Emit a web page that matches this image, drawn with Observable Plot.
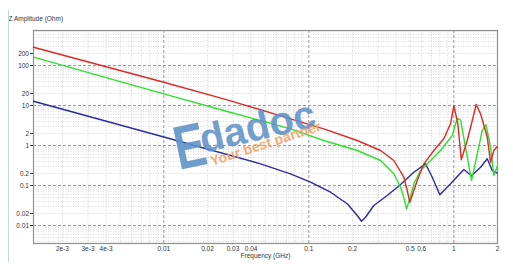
<!DOCTYPE html>
<html><head><meta charset="utf-8">
<script src="https://cdn.jsdelivr.net/npm/d3@7"></script>
<script src="https://cdn.jsdelivr.net/npm/@observablehq/plot@0.6"></script>
<style>
body{margin:0;background:#fff}
#wrap{position:relative;width:513px;height:269px;overflow:hidden;background:#fff}
#edge{position:absolute;left:8px;top:10px;width:1px;height:252px;background:#c9d7e6}
#wm{position:absolute;left:0;top:0;pointer-events:none}
</style>
</head><body><div id="wrap"><div id="edge"></div></div>
<script>
// Frequency (GHz) and impedance (Ohm)
const redF = [0.001263,0.01,0.02737,0.07477,0.1269,0.2157,0.3123,0.3857,0.452,0.4771,0.4973,0.5593,0.6211,0.7279,0.8531,0.9489,1.0,1.066,1.125,1.237,1.34,1.427,1.528,1.70,1.791,1.887,1.992];
const redZ = [286.7,38.2,13.88,4.65,2.615,1.334,0.75,0.4217,0.1612,0.075,0.0382,0.1334,0.3487,0.75,1.47,3.486,10.0,3.486,0.439,1.334,4.217,10.59,6.2,1.613,0.382,0.75,0.944];

const greenF = [0.001263,0.01,0.02737,0.07477,0.1269,0.2157,0.3123,0.3857,0.4289,0.452,0.4718,0.5028,0.5298,0.5893,0.6908,0.8095,0.975,1.055,1.112,1.204,1.325,1.45,1.57,1.663,1.791,1.887,1.992];
const greenZ = [161.3,19.61,7.08,2.615,1.334,0.75,0.4217,0.1961,0.0907,0.0501,0.0259,0.0531,0.1103,0.2371,0.4217,0.75,1.778,4.732,4.39,0.907,0.1334,0.62,2.371,3.35,0.907,0.1778,0.2985];

const blueF = [0.001263,0.01,0.04643,0.07477,0.1027,0.1411,0.184,0.2157,0.2309,0.246,0.2807,0.3472,0.4289,0.5298,0.6381,0.7096,0.8007,0.9489,1.172,1.325,1.528,1.70,1.84,1.992];
const blueZ = [12.81,1.631,0.3487,0.1961,0.1209,0.068,0.0349,0.0178,0.0128,0.0161,0.0316,0.0562,0.1059,0.2151,0.3487,0.1612,0.0586,0.1103,0.2512,0.1747,0.2869,0.465,0.2371,0.203];

const xTicks = [0.002,0.003,0.004,0.01,0.02,0.03,0.04,0.1,0.2,0.5,0.6,1,2];
const xTickLabels = ["2e-3","3e-3","4e-3","0.01","0.02","0.03","0.04","0.1","0.2","0.5","0.6","1","2"];
const yTicks = [0.01,0.02,0.1,0.2,1,2,10,20,100,200];
const yTickLabels = ["0.01","0.02","0.1","0.2","1","2","10","20","100","200"];
const majorX = [0.01,0.1,1];
const majorY = [0.01,0.1,1,10,100];
const minorMult = [2,3,4,5,6,7,8,9];
const xDecades = [0.001,0.01,0.1,1];
const yDecades = [0.001,0.01,0.1,1,10,100];
const minorX = xDecades.flatMap(d => minorMult.map(m => d*m)).filter(v => v > 0.00127 && v < 2);
const minorY = yDecades.flatMap(d => minorMult.map(m => d*m)).filter(v => v > 0.0036 && v < 740);

const yLab = new Map(yTicks.map((t,i)=>[t,yTickLabels[i]]));
const pts = (F,Z) => F.map((f,i)=>({f, z:Z[i]}));

const chart = Plot.plot({
  width: 513, height: 269,
  marginLeft: 33, marginTop: 30, marginRight: 16, marginBottom: 26,
  style: {fontFamily: "'Liberation Sans', Arial, sans-serif", fontSize: "6.5px", color: "#333", background: "#fff"},
  x: {type: "log", domain: [0.001263, 2.0], label: null, axis: null},
  y: {type: "log", domain: [0.00355, 750], label: null},
  marks: [
    Plot.ruleX(minorX, {stroke: "#d6d6d6", strokeDasharray: "1,1.5"}),
    Plot.ruleY(minorY, {stroke: "#d6d6d6", strokeDasharray: "1,1.5"}),
    Plot.ruleX(majorX, {stroke: "#9a9a9a", strokeDasharray: "3,2"}),
    Plot.ruleY(majorY, {stroke: "#9a9a9a", strokeDasharray: "3,2"}),
    Plot.frame({stroke: "#8f8f8f", strokeWidth: 1.2}),
    Plot.text(xTicks, {x: d => d, text: (d, i) => xTickLabels[i], frameAnchor: "bottom", dy: 7, fill: "#333"}),
    Plot.axisY({ticks: yTicks, tickFormat: d => yLab.get(d), tickSize: 3, tickPadding: 1.5}),
    Plot.line(pts(blueF, blueZ), {x: "f", y: "z", stroke: "#2a2aa8", strokeWidth: 1.4}),
    Plot.line(pts(greenF, greenZ), {x: "f", y: "z", stroke: "#2fe02f", strokeWidth: 1.4}),
    Plot.line(pts(redF, redZ), {x: "f", y: "z", stroke: "#dd2a22", strokeWidth: 1.4}),
    Plot.text(["Z Amplitude (Ohm)"], {frameAnchor: "top-left", dx: -25, dy: -14, textAnchor: "start", fill: "#333"}),
    Plot.text(["Frequency (GHz)"], {frameAnchor: "bottom", dy: 14, fill: "#333"})
  ]
});
const wrap = document.getElementById("wrap");
wrap.appendChild(chart);

const ns = "http://www.w3.org/2000/svg";
const wm = document.createElementNS(ns, "svg");
wm.setAttribute("id", "wm");
wm.setAttribute("width", 513);
wm.setAttribute("height", 269);
wm.innerHTML = `
 <g font-family="'Liberation Sans', Arial, sans-serif" font-weight="bold">
  <text x="0" y="0" font-size="62" fill="#5f92c8" fill-opacity="0.9" transform="translate(179,170) rotate(-12) scale(0.75,1)">E</text>
  <text x="0" y="0" font-size="40" fill="#5f92c8" fill-opacity="0.9" transform="translate(203,153) rotate(-13)">dadoc</text>
  <text x="0" y="0" font-size="14" fill="#f2a064" fill-opacity="0.9" transform="translate(212,166) rotate(-18)">Your best partner</text>
 </g>`;
wrap.appendChild(wm);
</script>
</body></html>
